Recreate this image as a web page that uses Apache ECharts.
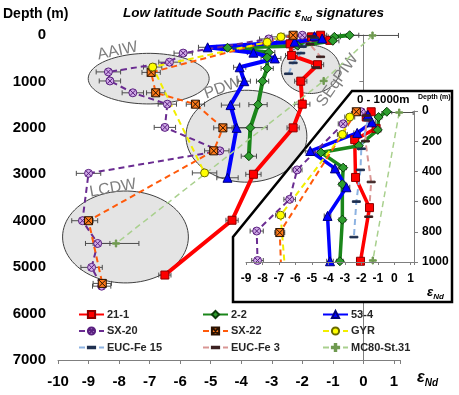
<!DOCTYPE html>
<html>
<head>
<meta charset="utf-8">
<script src="https://cdn.jsdelivr.net/npm/echarts@6/dist/echarts.min.js"></script>
<style>
  html, body { margin: 0; padding: 0; background: #fff; }
  #chart { width: 459px; height: 395px; }
</style>
</head>
<body>
<div id="chart"></div>
<script>
// eNd values, depths (m) and +/- error
const eps21 = [-1.4, -1.7, -1.1, -2.4, -2.35, -1.5, -2.05, -2.0, -2.3, -3.6, -4.3, -6.5];
const dep21 = [5, 40, 115, 190, 440, 640, 995, 1490, 2000, 3000, 3990, 5170];
const err21 = [0.2, 0.2, 0.2, 0.2, 0.2, 0.2, 0.2, 0.25, 0.2, 0.25, 0.2, 0.2];

const eps22 = [-0.45, -0.95, -1.0, -2.15, -4.45, -3.1, -3.15, -3.15, -3.3, -3.45, -3.7, -3.75];
const dep22 = [5, 40, 125, 230, 275, 375, 485, 720, 995, 1500, 1995, 2610];
const err22 = [0.3, 0.2, 0.2, 0.2, 0.2, 0.2, 0.2, 0.2, 0.2, 0.3, 0.55, 0.25];

const eps534 = [-1.6, -1.35, -2.25, -5.1, -3.6, -2.9, -4.05, -3.9, -4.35, -4.15, -4.45];
const dep534 = [25, 75, 145, 265, 380, 505, 695, 995, 1510, 2000, 3075];
const err534 = [0.2, 0.2, 0.2, 0.3, 0.2, 0.2, 0.2, 0.2, 0.3, 0.4, 0.35];

const epsSX20 = [-2.0, -3.1, -5.9, -6.35, -8.35, -8.3, -7.55, -6.42, -6.5, -4.7, -9.0, -9.2, -8.7, -8.9, -8.57];
const depSX20 = [5, 85, 390, 585, 795, 990, 1245, 1490, 1990, 2495, 2980, 4000, 4490, 5005, 5410];
const errSX20 = [0.3, 0.3, 0.3, 0.35, 0.4, 0.35, 0.35, 0.3, 0.35, 0.3, 0.4, 0.35, 0.4, 0.35, 0.3];

const epsSX22 = [-2.3, -6.95, -6.8, -5.5, -4.6, -4.9, -9.0, -8.55];
const depSX22 = [5, 805, 1245, 1490, 2000, 2495, 4000, 5350];
const errSX22 = [0.3, 0.3, 0.3, 0.3, 0.3, 0.3, 0.3, 0.3];

const epsGYR = [-2.7, -3.15, -6.9, -5.2];
const depGYR = [40, 155, 690, 2970];
const errGYR = [0.3, 0.3, 0.3, 0.4];

const epsE15 = [-1.6, -2.0, -2.05, -2.3, -2.45];
const depE15 = [60, 250, 390, 600, 835];

const epsE3 = [-1.7, -1.75, -1.4, -1.55];
const depE3 = [30, 200, 470, 700];

const epsMC = [0.3, -1.3, -8.1];
const depMC = [10, 990, 4490];
const errMC = [0.85, 0, 0.75];

const xTicksMain = [-10, -9, -8, -7, -6, -5, -4, -3, -2, -1, 0, 1];
const depthTicksMain = [0, 1000, 2000, 3000, 4000, 5000, 6000, 7000];
const depthTicksInset = [0, 200, 400, 600, 800, 1000];

// water mass ellipses: name, centre eNd, centre depth, half width (eNd), half height (m)
const massNames = ['AAIW', 'PDW', 'SEqPIW', 'LCDW'];
const massEps = [-7.03, -3.83, -1.73, -7.79];
const massDep = [940, 2180, 740, 4350];
const massRx = [1.98, 1.98, 0.96, 2.06];
const massRy = [545, 990, 520, 990];

const FONT = 'Liberation Sans';
const circleX = 'path://M10 0A10 10 0 1 1 10 20A10 10 0 1 1 10 0ZM3 3L17 17M17 3L3 17';
const squareX = 'path://M0 0H20V20H0ZM0 0L20 20M20 0L0 20';
const dash = 'path://M0 0ZM20 20ZM0 8H20V12H0Z';
const plus = 'path://M8 0H12V8H20V12H12V20H8V12H0V8H8Z';

const defs = [
  { name: '21-1', x: eps21, y: dep21, e: err21, color: '#ff0000', width: 4, type: 'solid',
    symbol: 'rect', size: 8, fill: '#ff0000', border: '#8b0000' },
  { name: '2-2', x: eps22, y: dep22, e: err22, color: '#1a861a', width: 4, type: 'solid',
    symbol: 'diamond', size: 9, fill: '#2e9e2e', border: '#0b3d0b' },
  { name: '53-4', x: eps534, y: dep534, e: err534, color: '#0000ff', width: 4, type: 'solid',
    symbol: 'triangle', size: 9, fill: '#0000ff', border: '#00007a' },
  { name: 'SX-20', x: epsSX20, y: depSX20, e: errSX20, color: '#6a2c91', width: 2, type: [6, 4],
    symbol: circleX, size: 8, fill: '#cfa8e6', border: '#5a2080' },
  { name: 'SX-22', x: epsSX22, y: depSX22, e: errSX22, color: '#ff5a0a', width: 2, type: [6, 4],
    symbol: squareX, size: 8, fill: '#ff7a1a', border: '#2a1200' },
  { name: 'GYR', x: epsGYR, y: depGYR, e: errGYR, color: '#f2ee00', width: 2, type: [6, 4],
    symbol: 'circle', size: 8, fill: '#ffff00', border: '#6b6b00' },
  { name: 'EUC-Fe 15', x: epsE15, y: depE15, e: null, color: '#8db3e2', width: 2, type: [6, 4],
    symbol: dash, size: 8, fill: '#1f3050', border: '#1f3050' },
  { name: 'EUC-Fe 3', x: epsE3, y: depE3, e: null, color: '#d99694', width: 2, type: [6, 4],
    symbol: dash, size: 8, fill: '#3b2020', border: '#3b2020' },
  { name: 'MC80-St.31', x: epsMC, y: depMC, e: errMC, color: '#a9d08e', width: 1.5, type: [6, 4],
    symbol: plus, size: 7, fill: '#6f9a50', border: '#6f9a50' }
];

const chart = echarts.init(document.getElementById('chart'));

function errBarItem(params, api) {
  const v = api.value(0), d = api.value(1), e = api.value(2);
  if (!e) return null;
  const a = api.coord([v - e, d]);
  const b = api.coord([v + e, d]);
  const st = { stroke: '#4d4d4d', lineWidth: 1 };
  return {
    type: 'group',
    children: [
      { type: 'line', shape: { x1: a[0], y1: a[1], x2: b[0], y2: b[1] }, style: st },
      { type: 'line', shape: { x1: a[0], y1: a[1] - 2.5, x2: a[0], y2: a[1] + 2.5 }, style: st },
      { type: 'line', shape: { x1: b[0], y1: b[1] - 2.5, x2: b[0], y2: b[1] + 2.5 }, style: st }
    ]
  };
}

function ellipseItem(params, api) {
  const c = api.coord([api.value(0), api.value(1)]);
  const s = api.size([api.value(2), api.value(3)]);
  const rx = Math.abs(s[0]), ry = Math.abs(s[1]);
  const pts = [];
  for (let k = 0; k < 90; k++) {
    const a = k / 90 * Math.PI * 2;
    pts.push([c[0] + rx * Math.cos(a), c[1] + ry * Math.sin(a)]);
  }
  return {
    type: 'polygon',
    shape: { points: pts },
    style: { fill: '#e4e4e4', stroke: '#3f3f3f', lineWidth: 1 }
  };
}

const errData = [];
defs.forEach(d => {
  if (!d.e) return;
  d.x.forEach((v, i) => errData.push([v, d.y[i], d.e[i]]));
});

function lineSeries(d, inset) {
  return {
    name: d.name,
    type: 'line',
    xAxisIndex: inset ? 1 : 0,
    yAxisIndex: inset ? 1 : 0,
    data: d.x.map((v, i) => [v, d.y[i]]),
    symbol: d.symbol,
    symbolSize: d.size,
    clip: true,
    z: inset ? 14 : 3,
    lineStyle: { color: d.color, width: inset && d.width > 3 ? 3.5 : d.width, type: d.type },
    itemStyle: { color: d.fill, borderColor: d.border, borderWidth: 1 },
    emphasis: { disabled: true },
    animation: false
  };
}

const series = [
  {
    type: 'custom', xAxisIndex: 0, yAxisIndex: 0, z: 1, silent: true, animation: false,
    renderItem: ellipseItem,
    data: massNames.map((n, i) => [massEps[i], massDep[i], massRx[i], massRy[i]])
  },
  {
    type: 'custom', xAxisIndex: 0, yAxisIndex: 0, z: 2, silent: true, animation: false,
    renderItem: errBarItem, data: errData
  },
  {
    type: 'custom', xAxisIndex: 1, yAxisIndex: 1, z: 13, silent: true, animation: false, clip: true,
    renderItem: errBarItem, data: errData.filter(p => p[1] <= 1000)
  }
];
defs.forEach(d => series.push(lineSeries(d, false)));
defs.forEach(d => series.push(lineSeries(d, true)));

const labelStyle = { fontFamily: FONT, fontWeight: 'bold', color: '#000' };
const intFmt = v => (Number.isInteger(v) ? String(v) : '');
const plainFmt = v => String(v);

const legendBase = {
  orient: 'vertical', top: 309, padding: 0, itemWidth: 25, itemHeight: 9, itemGap: 5.5,
  selectedMode: false,
  textStyle: { fontFamily: FONT, fontWeight: 'bold', fontSize: 11, color: '#262626', padding: [0, 0, 0, -2] }
};

const rich = (size) => ({
  e: { fontFamily: FONT, fontWeight: 'bold', fontStyle: 'italic', fontSize: size, lineHeight: size + 4, verticalAlign: 'bottom' },
  s: { fontFamily: FONT, fontWeight: 'bold', fontStyle: 'italic', fontSize: Math.round(size * 0.62), lineHeight: size + 4, verticalAlign: 'bottom', padding: [0, 0, -2, 0] }
});

// label positions of the water masses in data units
const massLabelEps = [-8.05, -4.62, -0.85, -8.2];
const massLabelDep = [345, 1145, 975, 3300];
const massLabelRot = [12, 20, 55, 10];

const option = {
  animation: false,
  grid: [
    { left: 58, top: 35, width: 342, height: 325, outerBoundsMode: 'none' },
    { left: 246, top: 111, width: 168, height: 151, outerBoundsMode: 'none' }
  ],
  xAxis: [
    {
      type: 'value', gridIndex: 0, min: xTicksMain[0], max: 1.2, interval: 1,
      splitLine: { show: false },
      axisLine: { onZero: false, lineStyle: { color: '#7f7f7f', width: 1 } },
      axisTick: { show: true, length: 4, lineStyle: { color: '#7f7f7f' } },
      axisLabel: Object.assign({ fontSize: 15, margin: 14, formatter: intFmt }, labelStyle)
    },
    {
      type: 'value', gridIndex: 1, min: -9, max: 1.2, interval: 1, z: 16,
      splitLine: { show: false },
      axisLine: { onZero: false, lineStyle: { color: '#7f7f7f', width: 1 } },
      axisTick: { show: true, length: 3, lineStyle: { color: '#7f7f7f' } },
      axisLabel: Object.assign({ fontSize: 12, margin: 11, formatter: intFmt }, labelStyle)
    }
  ],
  yAxis: [
    {
      type: 'value', gridIndex: 0, inverse: true, min: depthTicksMain[0], max: 7000, interval: 1000,
      splitLine: { show: false },
      axisLine: { show: true, lineStyle: { color: '#7f7f7f', width: 1 } },
      axisTick: { show: true, length: 4, lineStyle: { color: '#7f7f7f' } },
      axisLabel: Object.assign({ fontSize: 15, margin: 12, formatter: plainFmt }, labelStyle)
    },
    {
      type: 'value', gridIndex: 1, inverse: true, position: 'right', min: depthTicksInset[0], max: 1000, interval: 200, z: 16,
      splitLine: { show: false },
      axisLine: { show: true, onZero: false, lineStyle: { color: '#7f7f7f', width: 1 } },
      axisTick: { show: true, length: 4, lineStyle: { color: '#7f7f7f' } },
      axisLabel: Object.assign({ fontSize: 12, margin: 8, formatter: plainFmt }, labelStyle)
    }
  ],
  legend: [
    Object.assign({ left: 78, data: ['21-1', 'SX-20', 'EUC-Fe 15'] }, legendBase),
    Object.assign({ left: 202, data: ['2-2', 'SX-22', 'EUC-Fe 3'] }, legendBase),
    Object.assign({ left: 322, data: ['53-4', 'GYR', 'MC80-St.31'] }, legendBase)
  ],
  graphic: [
    {
      type: 'polygon', z: 10, silent: true,
      shape: { points: [[352, 91], [452, 91], [452, 302], [233, 302], [233, 237]] },
      style: { fill: '#ffffff', stroke: '#000000', lineWidth: 2.5 }
    },
    {
      type: 'text', z: 20, left: 3, top: 7,
      style: { text: 'Depth (m)', font: 'bold 14px "Liberation Sans"', fill: '#000' }
    },
    {
      type: 'text', z: 20, x: 123, y: 3,
      style: {
        text: '{e|Low latitude South Pacific ε}{s|Nd}{e| signatures}',
        rich: rich(13.5), fill: '#000'
      }
    },
    {
      type: 'text', z: 20, x: 417, y: 366,
      style: { text: '{e|ε}{s|Nd}', rich: rich(16), fill: '#000' }
    },
    {
      type: 'text', z: 20, x: 427, y: 282,
      style: { text: '{e|ε}{s|Nd}', rich: rich(13), fill: '#000' }
    },
    {
      type: 'text', z: 20, x: 357, y: 94,
      style: { text: '0 - 1000m', font: 'bold 11.5px "Liberation Sans"', fill: '#000' }
    },
    {
      type: 'text', z: 20, x: 418, y: 94,
      style: { text: 'Depth (m)', font: 'bold 7px "Liberation Sans"', fill: '#000' }
    }
  ],
  series: series.concat([{
    type: 'custom', xAxisIndex: 0, yAxisIndex: 0, z: 1, silent: true, animation: false,
    data: massNames.map((n, i) => [massLabelEps[i], massLabelDep[i], massLabelRot[i]]),
    renderItem: function (params, api) {
      const p = api.coord([api.value(0), api.value(1)]);
      return {
        type: 'text', x: p[0], y: p[1], rotation: api.value(2) * Math.PI / 180, z2: 5,
        style: {
          text: massNames[params.dataIndex], fill: '#7f7f7f',
          font: '16px "Liberation Sans"', align: 'center', verticalAlign: 'middle'
        }
      };
    }
  }])
};

chart.setOption(option);
window.addEventListener('resize', () => chart.resize());
</script>
</body>
</html>
